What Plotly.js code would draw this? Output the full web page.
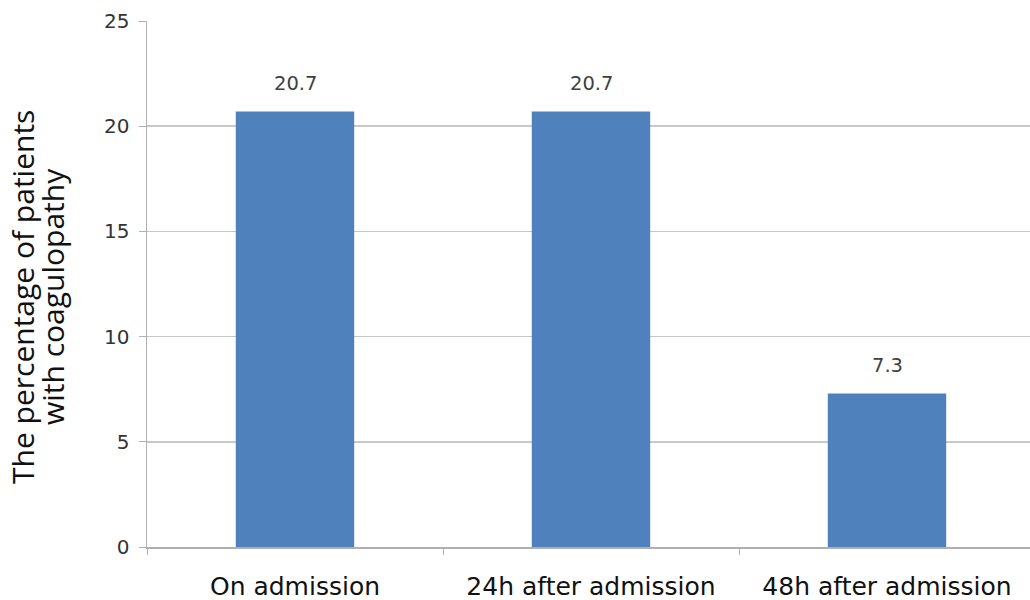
<!DOCTYPE html>
<html><head><meta charset="utf-8">
<script src="https://cdn.plot.ly/plotly-3.0.1.min.js"></script>
<style>html,body{margin:0;padding:0;background:#fff;overflow:hidden;width:1030px;height:600px}#chart{width:1035px;height:600px}</style>
</head><body><div id="chart"></div>
<script>
const categories = ["On admission", "24h after admission", "48h after admission"];
const values = [20.7, 20.7, 7.3];
const yTicks = [0, 5, 10, 15, 20, 25];
const yTitleLines = ["The percentage of patients", "with coagulopathy"];

const FONT_V = "'DejaVu Sans', Verdana, sans-serif";
const FONT_T = "'Open Sans', 'Noto Sans', sans-serif";

const trace = {
  type: "bar",
  x: categories,
  y: values,
  marker: {color: "#4f81bd", line: {width: 0}},
  hoverinfo: "none"
};

const annotations = categories.map((c, i) => ({
  x: c, y: values[i], xref: "x", yref: "y",
  text: values[i].toFixed(1), showarrow: false,
  yanchor: "bottom", yshift: 14,
  font: {family: FONT_V, size: 19.5, color: "#404040"}
}));

const titleShifts = [-125, -95];
yTitleLines.forEach((t, i) => {
  annotations.push({
    x: 0, y: 0.5, xref: "paper", yref: "paper",
    text: t, textangle: -90, showarrow: false,
    xanchor: "center", yanchor: "middle",
    xshift: titleShifts[i], yshift: -13,
    font: {family: FONT_T, size: 30, color: "#111"}
  });
});

const layout = {
  width: 1035, height: 600,
  margin: {l: 147, r: 0, t: 21, b: 53},
  paper_bgcolor: "#fff", plot_bgcolor: "#fff",
  showlegend: false,
  bargap: 0.6,
  xaxis: {
    type: "category",
    showline: true, linecolor: "#b0b0b0", linewidth: 1.5,
    ticks: "outside", tickson: "boundaries", ticklen: 6, tickcolor: "#b0b0b0",
    showgrid: false,
    ticklabelstandoff: 16,
    tickfont: {family: FONT_V, size: 25, color: "#111"}
  },
  yaxis: {
    range: [0, 25],
    tickvals: yTicks,
    showline: true, linecolor: "#b0b0b0", linewidth: 1.5,
    ticks: "outside", ticklen: 7, tickcolor: "#b0b0b0",
    showgrid: true, gridcolor: "#c8c8c8", gridwidth: 1.5,
    zeroline: false,
    ticklabelstandoff: 5,
    tickfont: {family: FONT_V, size: 20, color: "#333"}
  },
  annotations: annotations
};

Plotly.newPlot("chart", [trace], layout, {displayModeBar: false, staticPlot: true});
</script>
</body></html>
